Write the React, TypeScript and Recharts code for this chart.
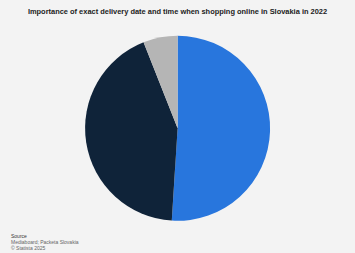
import { PieChart, Pie, Cell } from "recharts";

const labels = ["Important", "Not important", "Don't know"];
const shares = [51, 43, 6];
const colors = ["#2876dd", "#0f2339", "#b5b5b5"];

const title =
  "Importance of exact delivery date and time when shopping online in Slovakia in 2022";
const sourceLines = ["Source", "Mediaboard; Packeta Slovakia", "© Statista 2025"];

const data = labels.map((name, i) => ({ name, value: shares[i] }));

export default function App() {
  return (
    <div
      style={{
        position: "absolute",
        top: 0,
        left: 0,
        width: 355,
        height: 253,
        background: "#f3f3f3",
        fontFamily: "'Liberation Sans', Arial, sans-serif",
        overflow: "hidden",
      }}
    >
      <div style={{ position: "absolute", top: 0, left: 0, width: 355, height: 253 }}>
        <PieChart width={355} height={253} margin={{ top: 0, right: 0, bottom: 0, left: 0 }}>
          <Pie
            data={data}
            dataKey="value"
            cx={177.6}
            cy={128.3}
            outerRadius={92.5}
            startAngle={90}
            endAngle={-270}
            stroke="none"
            isAnimationActive={false}
          >
            {data.map((entry, index) => (
              <Cell key={`cell-${index}`} fill={colors[index]} />
            ))}
          </Pie>
        </PieChart>
      </div>
      <div
        style={{
          position: "absolute",
          top: 7,
          left: 0,
          width: 355,
          textAlign: "center",
          fontSize: 7.45,
          fontWeight: "bold",
          color: "#222",
        }}
      >
        {title}
      </div>
      <div
        style={{
          position: "absolute",
          top: 232.5,
          left: 11,
          fontSize: 5,
          lineHeight: "6.2px",
          color: "#666",
        }}
      >
        <div style={{ color: "#333" }}>{sourceLines[0]}</div>
        <div>{sourceLines[1]}</div>
        <div>{sourceLines[2]}</div>
      </div>
    </div>
  );
}
